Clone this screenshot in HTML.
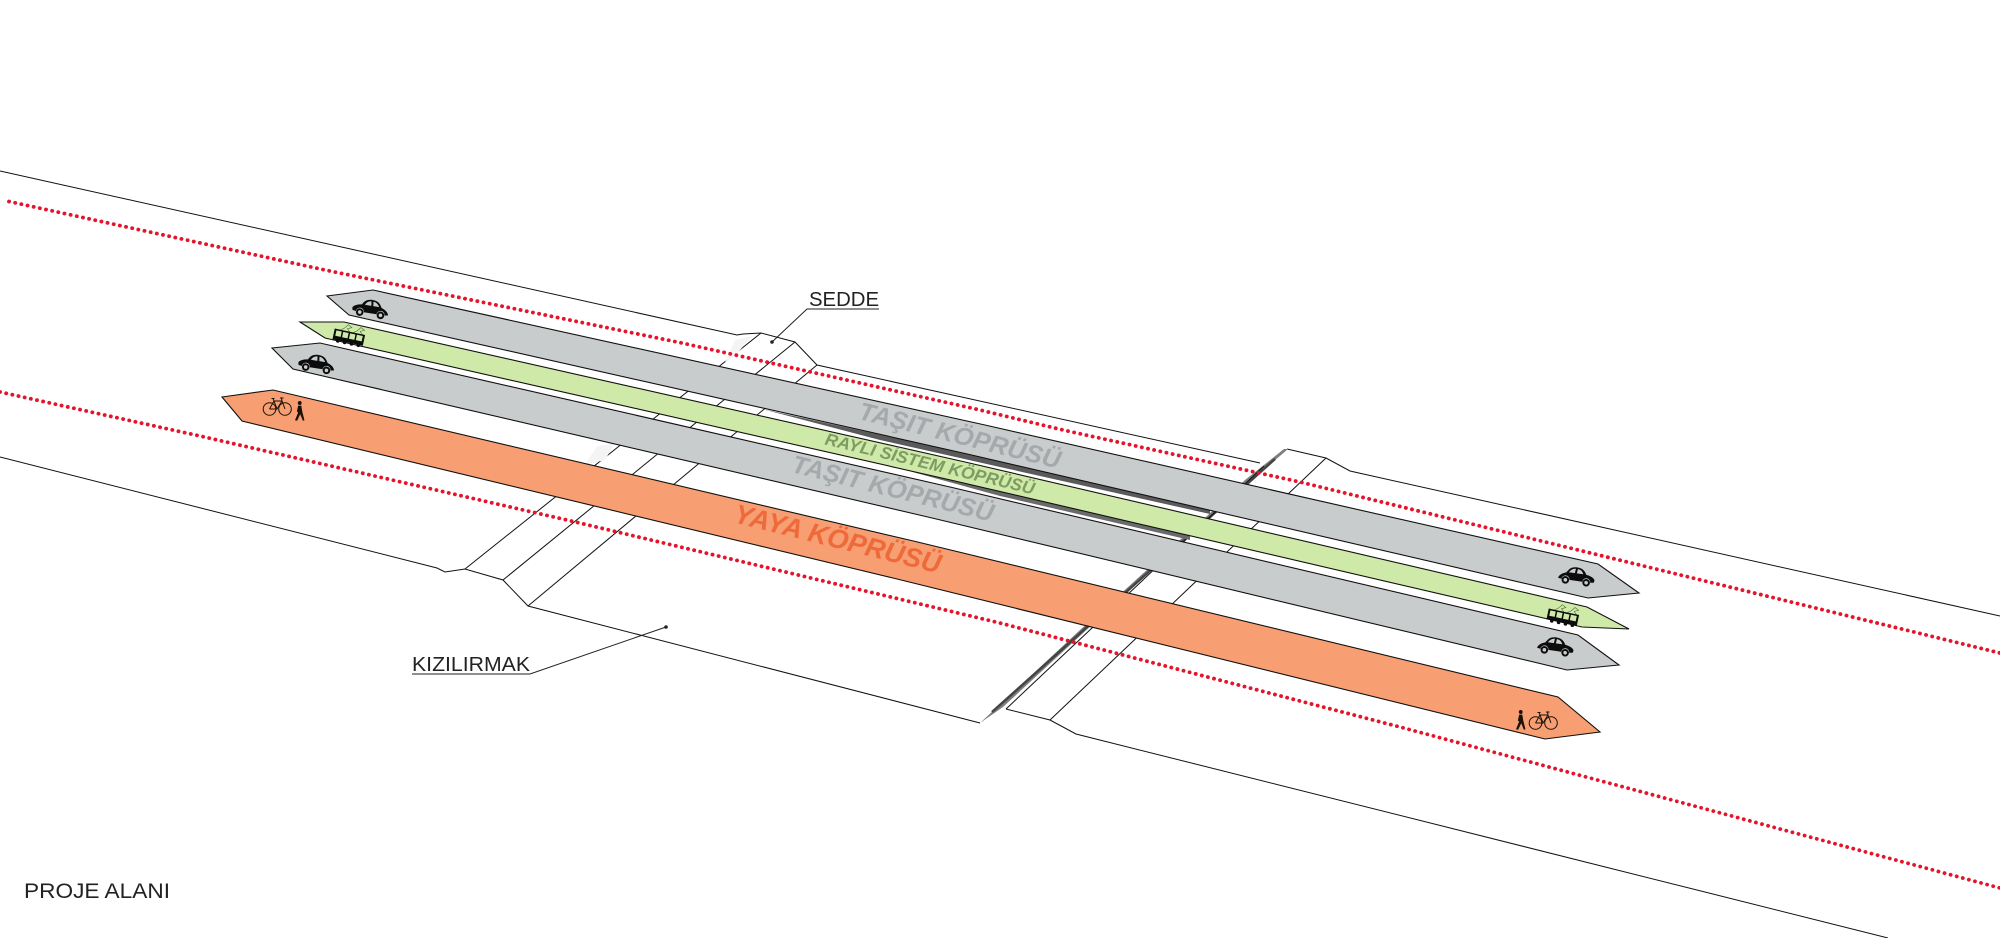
<!DOCTYPE html>
<html><head><meta charset="utf-8"><style>
html,body{margin:0;padding:0;background:#fff}
svg{display:block}
text{font-family:"Liberation Sans",sans-serif}
</style></head><body>
<svg xmlns="http://www.w3.org/2000/svg" width="2000" height="938" viewBox="0 0 2000 938">
<defs>
<linearGradient id="sl" x1="0" y1="0" x2="1" y2="1"><stop offset="0" stop-color="#3c3c3c"/><stop offset=".6" stop-color="#8a8a8a"/><stop offset="1" stop-color="#e4e4e4"/></linearGradient>
<g id="car">
<path d="M0,10.5C1,8 5,6.5 9,6C11,2 14,0 19,0C25,0 27,3 29,6.5C32,7.5 36,9.5 36.5,13L33,13.5A4,4 0 0 0 25,13.5L12,13.5A4,4 0 0 0 4,13.5L0.5,13Z" fill="#0c0c0c"/>
<circle cx="8" cy="14" r="3.8" fill="#0c0c0c"/><circle cx="29" cy="14" r="3.8" fill="#0c0c0c"/>
<circle cx="8" cy="14" r="1.8" fill="#c9cccd"/><circle cx="29" cy="14" r="1.8" fill="#c9cccd"/>
<path d="M12,6C13,3.5 15,1.6 18,1.6L18.5,6ZM20,1.6C23,1.6 25,3.5 26.5,6L20.5,6Z" fill="#c9cccd"/>
</g>
<g id="tram" fill="none" stroke="#0c0c0c">
<path d="M6,4L10,1L13,-3L17,-1L13,1L16,4M19,4L23,1L26,-3L30,-1L26,1L29,4" stroke-width=".6" stroke="#4a6a30"/>
<rect x="1" y="4" width="30" height="10" fill="#0c0c0c" stroke-width="1"/>
<path d="M2.5,5h5.5v5.5h-5.5zM9.5,5h5.5v5.5h-5.5zM16.5,5h5.5v5.5h-5.5zM23.5,5h6v5.5h-6z" fill="#cfe9a8" stroke="none"/>
<circle cx="6" cy="15" r="1.3" fill="#0c0c0c"/><circle cx="13" cy="15" r="1.3" fill="#0c0c0c"/><circle cx="20" cy="15" r="1.3" fill="#0c0c0c"/><circle cx="27" cy="15" r="1.3" fill="#0c0c0c"/>
</g>
<g id="bike" fill="none" stroke="#1a1208" stroke-width="1">
<circle cx="6.5" cy="12" r="6.3"/><circle cx="22" cy="12" r="6.3"/>
<path d="M6.5,12L11,4L19,4L22,12M11,4L14,12L19,4M14,12H6.5M18.5,1L19,4M17,1h3.5M11,4L10,1.5M8.5,1.5h3"/>
</g>
<g id="walk" fill="#1a1208">
<circle cx="4.5" cy="1.8" r="1.8"/>
<path d="M3,4.2L6,4.2L7,10L9,17.5L7.5,18L5,12L2,18L0,17.5L3,10.5L1.8,9.5Z"/>
</g>
</defs>

<!-- ground lines -->
<g fill="none" stroke="#111" stroke-width="1">
<polyline points="0,171 737,335 743,334 761,333 795,342 817,365 1260,463"/>
<polyline points="1287,449 1326,458 1350,471 2000,616"/>
<polyline points="0,457 437,568 445,572 465,569 503,580 528,606 980,723"/>
<polyline points="1006,709 1050,720 1076,734 1888,938"/>
<line x1="465" y1="569" x2="761" y2="333"/>
<line x1="503" y1="580" x2="795" y2="342"/>
<line x1="528" y1="606" x2="817" y2="365"/>
<line x1="1050" y1="720" x2="1326" y2="458"/>
</g>
<polygon points="725,362 735,340 752,336 735,356" fill="#f4f4f4"/>
<polygon points="585,465 597,446 615,443 605,460" fill="#f4f4f4"/>
<polygon points="980,723 1003,707 1095,622 1155,567 1193,532 1220,507 1252,480 1288,449 1284,449 1245,480 1207,516 1182,538 1127,588 1080,630" fill="url(#sl)"/>
<line x1="992" y1="712" x2="1275" y2="459" stroke="#444" stroke-width="2.5"/>
<line x1="1006" y1="709" x2="1264" y2="466" stroke="#111" stroke-width="1"/>

<!-- shadows under bars -->
<polygon points="762,409 1000,461 1210,509 1210,514 1000,467 880,440" fill="#5a5a5a"/>
<polygon points="880,463 1000,490 1190,535 1190,540 1000,496" fill="#6a6a6a"/>

<!-- red dotted -->
<g fill="none" stroke="#e3142b" stroke-width="3.8" stroke-linecap="round" stroke-dasharray="0.1 6.2">
<polyline points="9,201.5 325,270 682,343 980,410 1063,430 1300,482 1660,570 2000,653"/>
<polyline points="0,392 200,436 567,520 1000,623 1400,727 2000,888"/>
</g>

<!-- bars -->
<g stroke="#111" stroke-width="1.1">
<polygon fill="#c9cccd" points="327,296 373,290 985,425 1598,564 1639,593 1588,598 970,454.6 349,315"/>
<polygon fill="#cfe9a8" points="300,322 344,322 965,462 1587,607 1629,629 1582,627 955,481 325,338"/>
<polygon fill="#c9cccd" points="272,348 320,343 950,487 1578,635 1619,665 1567,670 930,517.5 293,369"/>
<polygon fill="#f79e72" points="222,397 273,390 915,541.4 1558,697 1600,732 1545,739 893,578 242,421"/>
</g>

<!-- bar labels -->
<g font-weight="bold" font-style="italic" text-anchor="middle">
<text transform="translate(960,435) rotate(14)" y="9" font-size="25" fill="#a5a9ab" textLength="207" lengthAdjust="spacingAndGlyphs">TAŞIT KÖPRÜSÜ</text>
<text transform="translate(930,463.5) rotate(13.5)" y="6" font-size="17" fill="#7d9c62" textLength="215" lengthAdjust="spacingAndGlyphs">RAYLI SİSTEM KÖPRÜSÜ</text>
<text transform="translate(893,488) rotate(14)" y="9" font-size="25" fill="#a5a9ab" textLength="207" lengthAdjust="spacingAndGlyphs">TAŞIT KÖPRÜSÜ</text>
<text transform="translate(838,538) rotate(14)" y="10" font-size="27" fill="#ef6a3a" textLength="212" lengthAdjust="spacingAndGlyphs">YAYA KÖPRÜSÜ</text>
</g>

<!-- icons -->
<use href="#car" transform="translate(354,297) rotate(9)"/>
<use href="#car" transform="translate(300,352) rotate(9)"/>
<use href="#car" transform="translate(1596,570) rotate(8) scale(-1,1)"/>
<use href="#car" transform="translate(1575,640) rotate(8) scale(-1,1)"/>
<use href="#tram" transform="translate(335,325) rotate(12)"/>
<use href="#tram" transform="translate(1549,605) rotate(12)"/>
<use href="#bike" transform="translate(263,397)"/>
<use href="#walk" transform="translate(295,401) scale(1.05,1.1)"/>
<use href="#walk" transform="translate(1516,710) scale(1.05,1.1)"/>
<use href="#bike" transform="translate(1529,711)"/>

<!-- leaders and labels -->
<g fill="none" stroke="#222" stroke-width="1">
<polyline points="879,309 807,309 772,342"/>
<polyline points="412,674 530,674 666,627"/>
</g>
<circle cx="772" cy="342" r="1.8" fill="#222"/>
<circle cx="666" cy="627" r="1.8" fill="#222"/>
<g fill="#222" font-size="20">
<text x="809" y="306" textLength="70" lengthAdjust="spacingAndGlyphs">SEDDE</text>
<text x="412" y="671" textLength="118" lengthAdjust="spacingAndGlyphs">KIZILIRMAK</text>
<text x="24" y="898" font-size="21" textLength="146" lengthAdjust="spacingAndGlyphs">PROJE ALANI</text>
</g>
</svg>
</body></html>
